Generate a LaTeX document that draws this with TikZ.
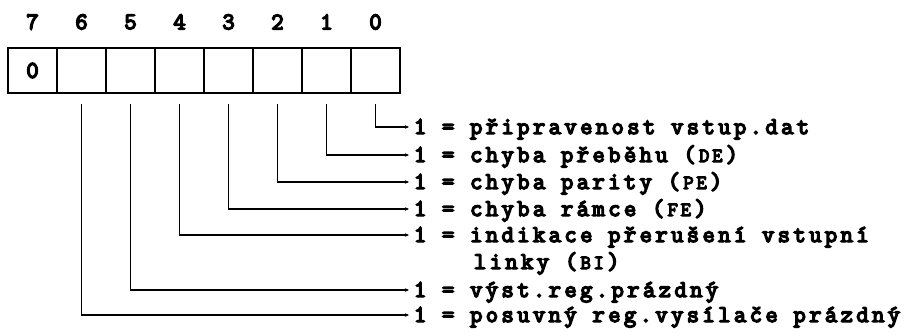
\documentclass[tikz,border=0pt]{standalone}
\usepackage{fontspec}
\usetikzlibrary{arrows.meta}
\setmonofont{Latin Modern Mono}[LetterSpace=14, FakeBold=6]
\newcommand\regcap[1]{\makebox[30pt]{\fontsize{20}{20}\selectfont #1}}

\begin{document}
\begin{tikzpicture}[x=1pt, y=-1pt, line width=1.8pt]
\tikzstyle{cell}=[rectangle, draw, minimum width=49pt, minimum height=45pt, inner sep=0pt, outer sep=0pt]
\tikzstyle{bitno}=[inner sep=0pt, font=\ttfamily\fontsize{24}{28}\selectfont]
\tikzstyle{meaning}=[anchor=west, inner sep=0pt, text height=14pt, text depth=0pt, font=\ttfamily\fontsize{24}{28}\selectfont]
\tikzstyle{drawstyle}=[-{Stealth[length=4pt, width=3.5pt]}, shorten >=4pt]
\useasboundingbox (0,0) rectangle (916,335);

% register cells and bit numbers
\foreach \i in {0,...,7} {
  \node[cell] (b\i) at ({32.5+49*(7-\i)},70.5) {};
  \node[bitno] (n\i) at ({32.5+49*(7-\i)},22) {\i};
}
\node[bitno] (z7) at (b7) {0};

% meanings of the bits
\node[meaning] (t0) at (413,127) {1 = připravenost vstup.dat};
\node[meaning] (t1) at (413,155) {1 = chyba přeběhu (\regcap{DE})};
\node[meaning] (t2) at (413,182) {1 = chyba parity (\regcap{PE})};
\node[meaning] (t3) at (413,209) {1 = chyba rámce (\regcap{FE})};
\node[meaning] (t4) at (413,235) {1 = indikace přerušení vstupní};
\node[meaning] (t4b) at (473,262) {linky (\regcap{BI})};
\node[meaning] (t5) at (413,290) {1 = výst.reg.prázdný};
\node[meaning] (t6) at (413,315) {1 = posuvný reg.vysílače prázdný};

\foreach \i in {0,...,6}
  \draw[drawstyle] ([yshift=-11pt]b\i.south) |- (t\i.west);
\end{tikzpicture}
\end{document}
